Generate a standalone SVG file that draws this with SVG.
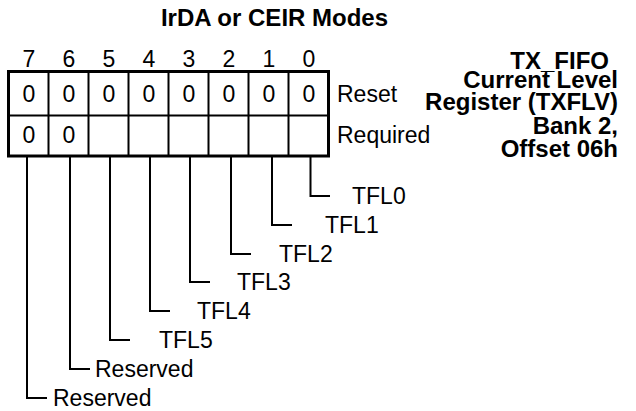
<svg xmlns="http://www.w3.org/2000/svg" width="636" height="411" viewBox="0 0 636 411">
<style>
text{font-family:"Liberation Sans",Arial,sans-serif;fill:#000}
.t{font-size:23px}
.c{font-size:23px;text-anchor:middle}
.b{font-size:24px;font-weight:bold}
.r{text-anchor:end}
.grid{fill:none;stroke:#000}
.conn{fill:none;stroke:#000;stroke-width:2}
</style>
<rect width="636" height="411" fill="#fff"/>
<g id="title"><text class="b" x="274.5" y="26" text-anchor="middle">IrDA or CEIR Modes</text></g>
<g id="bit-numbers">
<text class="c" x="28.8" y="67">7</text>
<text class="c" x="68.8" y="67">6</text>
<text class="c" x="108.8" y="67">5</text>
<text class="c" x="148.8" y="67">4</text>
<text class="c" x="188.8" y="67">3</text>
<text class="c" x="228.8" y="67">2</text>
<text class="c" x="268.8" y="67">1</text>
<text class="c" x="308.8" y="67">0</text>
</g>
<g id="register">
<rect class="grid" x="8.5" y="71.5" width="320" height="84.5" stroke-width="3"/>
<path class="grid" stroke-width="2" d="M8.5,115.5H328.5M48.5,71.5V156M88.5,71.5V156M128.5,71.5V156M168.5,71.5V156M208.5,71.5V156M248.5,71.5V156M288.5,71.5V156"/>
</g>
<g id="reset-row">
<text class="c" x="28.8" y="102">0</text>
<text class="c" x="68.8" y="102">0</text>
<text class="c" x="108.8" y="102">0</text>
<text class="c" x="148.8" y="102">0</text>
<text class="c" x="188.8" y="102">0</text>
<text class="c" x="228.8" y="102">0</text>
<text class="c" x="268.8" y="102">0</text>
<text class="c" x="308.8" y="102">0</text>
<text class="t" x="337" y="102">Reset</text>
</g>
<g id="required-row">
<text class="c" x="28.8" y="143">0</text>
<text class="c" x="68.8" y="143">0</text>
<text class="t" x="337" y="143">Required</text>
</g>
<g id="description">
<text class="b r" x="609" y="69">TX_FIFO</text>
<text class="b r" x="618" y="88">Current Level</text>
<text class="b r" x="618" y="110">Register (TXFLV)</text>
<text class="b r" x="618" y="134">Bank 2,</text>
<text class="b r" x="618" y="157">Offset 06h</text>
</g>
<g id="connectors">
<path class="conn" d="M310.5,157V196H330"/>
<path class="conn" d="M272,157V225H292"/>
<path class="conn" d="M231,157V254H251"/>
<path class="conn" d="M190,157V282H210"/>
<path class="conn" d="M150,157V311H170"/>
<path class="conn" d="M110,157V340H130"/>
<path class="conn" d="M70,157V369H90"/>
<path class="conn" d="M27,157V398H47"/>
</g>
<g id="field-tfl0"><text class="t" x="352" y="204">TFL0</text></g>
<g id="field-tfl1"><text class="t" x="325" y="233">TFL1</text></g>
<g id="field-tfl2"><text class="t" x="279" y="262">TFL2</text></g>
<g id="field-tfl3"><text class="t" x="237" y="290">TFL3</text></g>
<g id="field-tfl4"><text class="t" x="197" y="319">TFL4</text></g>
<g id="field-tfl5"><text class="t" x="159" y="348">TFL5</text></g>
<g id="field-res6"><text class="t" x="95" y="377">Reserved</text></g>
<g id="field-res7"><text class="t" x="53" y="406">Reserved</text></g>
</svg>
